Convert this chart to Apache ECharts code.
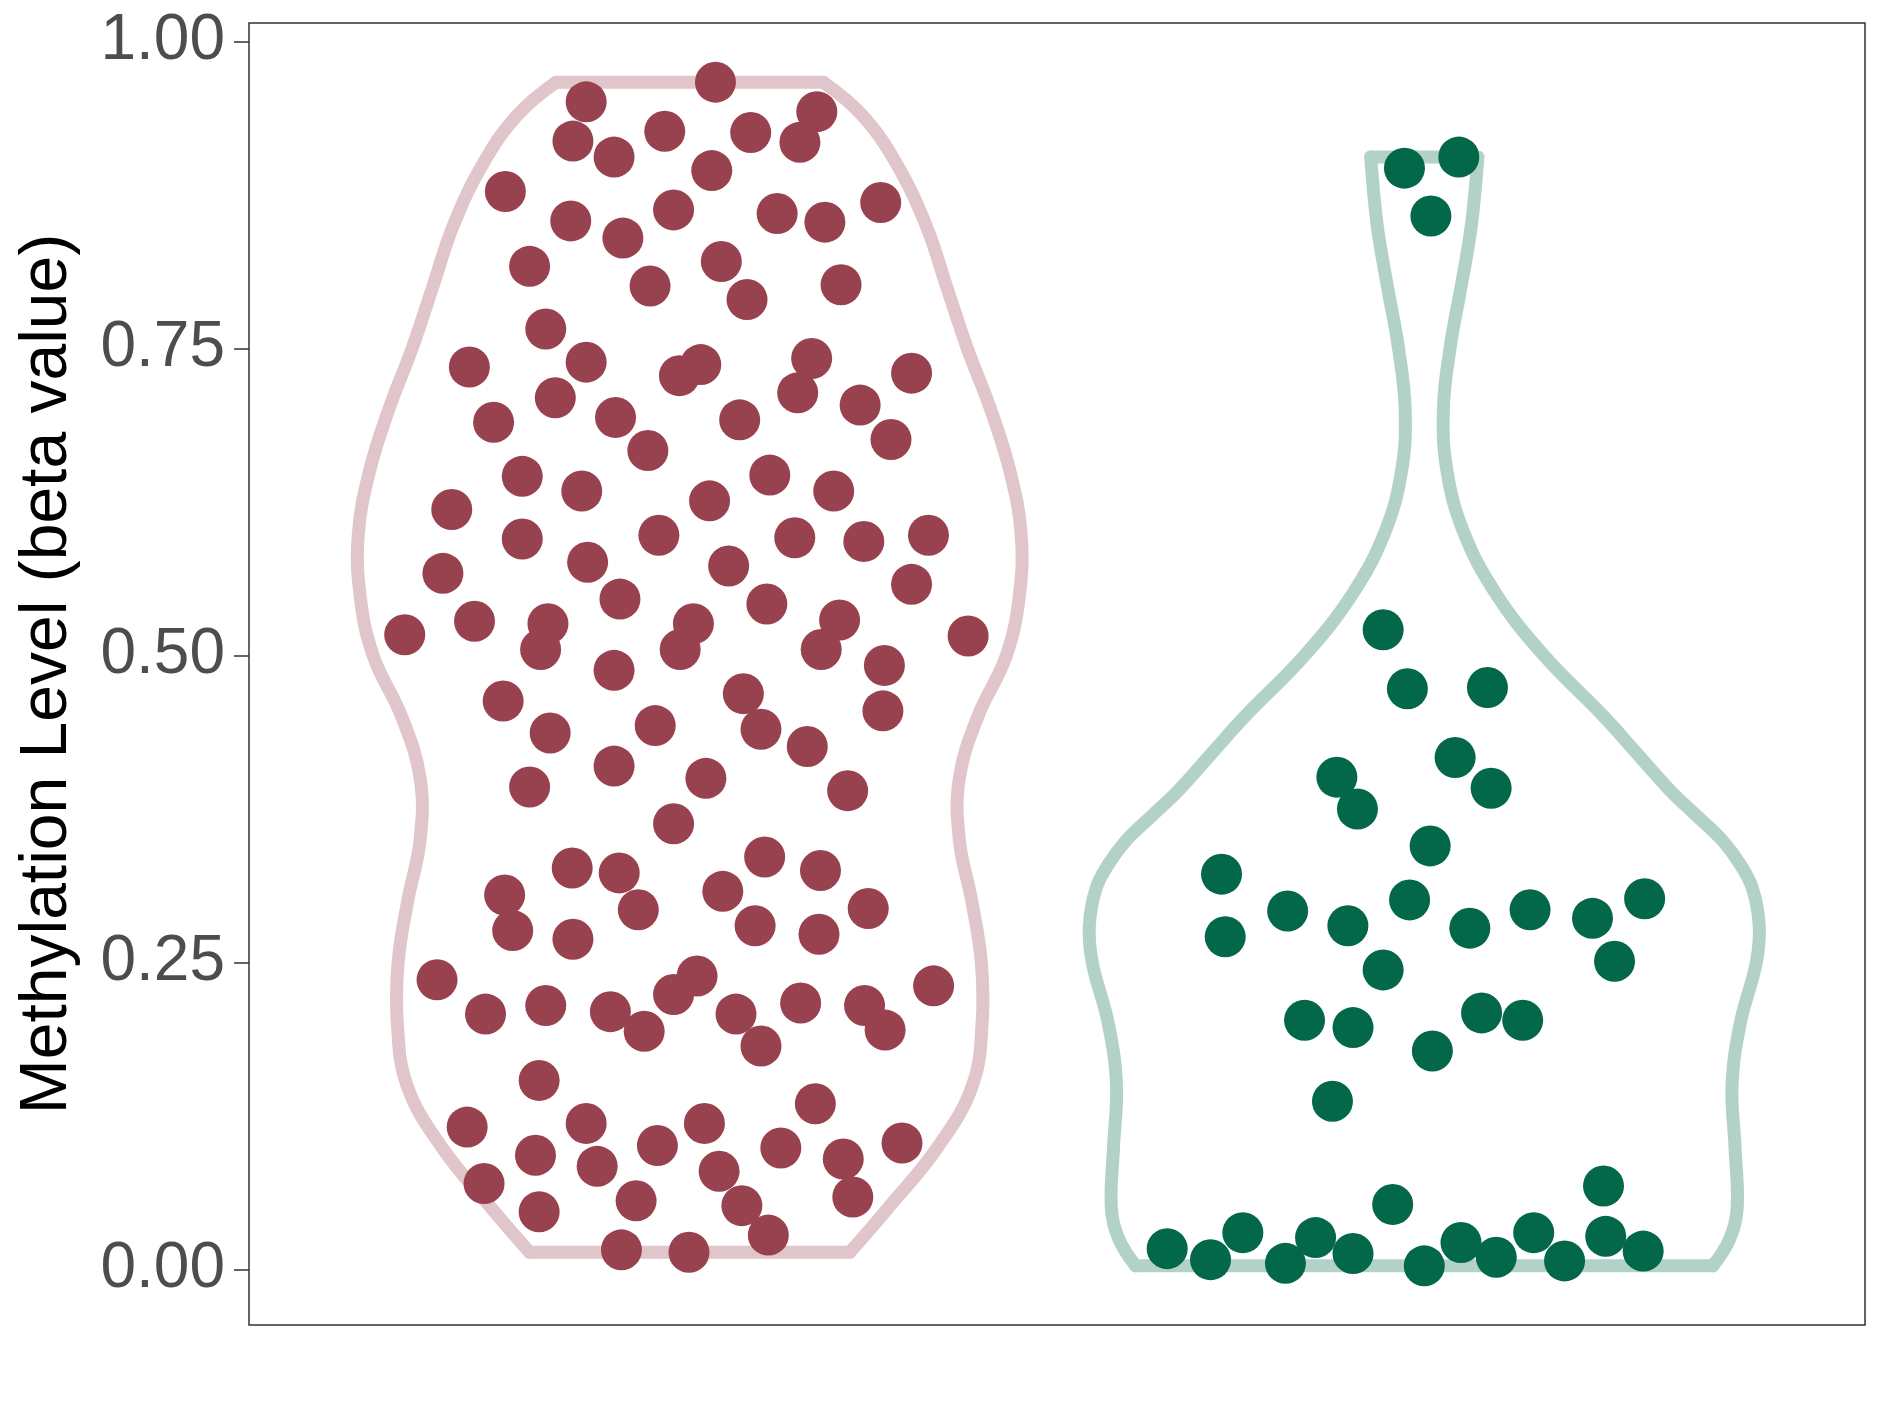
<!DOCTYPE html>
<html><head><meta charset="utf-8">
<script src="https://cdn.jsdelivr.net/npm/echarts@6/dist/echarts.min.js"></script>
<style>html,body{margin:0;padding:0;background:#fff}#c{width:1889px;height:1417px}</style>
</head><body><div id="c"></div>
<script>
// Group positions on the hidden x axis: 1 and 2
const groupPositions = [1, 2];
const yTicks = [0, 0.25, 0.5, 0.75, 1];

// Group 1 (red) points: value and horizontal jitter
const g1Values = [0.967,0.951,0.943,0.919,0.927,0.926,0.918,0.906,0.895,0.878,
  0.854,0.840,0.863,0.860,0.853,0.869,0.817,0.821,0.801,0.790,
  0.802,0.766,0.735,0.739,0.728,0.737,0.742,0.730,0.710,0.714,
  0.704,0.690,0.694,0.692,0.676,0.667,0.646,0.647,0.634,0.634,
  0.619,0.626,0.595,0.598,0.596,0.593,0.598,0.567,0.576,0.573,
  0.558,0.528,0.546,0.542,0.517,0.526,0.505,0.526,0.505,0.529,
  0.505,0.516,0.492,0.488,0.463,0.469,0.455,0.437,0.443,0.440,
  0.426,0.410,0.400,0.393,0.390,0.363,0.336,0.327,0.323,0.325,
  0.305,0.308,0.293,0.294,0.280,0.276,0.269,0.273,0.236,0.239,
  0.231,0.224,0.208,0.215,0.210,0.208,0.217,0.215,0.194,0.195,
  0.182,0.154,0.135,0.116,0.119,0.119,0.101,0.099,0.103,0.093,
  0.084,0.080,0.090,0.070,0.056,0.052,0.059,0.047,0.028,0.016,0.014];
const g1Jitter = [0.035,-0.141,0.173,-0.159,-0.034,0.083,0.150,-0.103,0.030,-0.251,
  -0.162,-0.091,-0.022,0.119,0.184,0.260,-0.218,0.043,-0.054,0.078,
  0.206,-0.196,-0.300,-0.141,-0.014,0.015,0.166,0.302,-0.183,0.147,
  0.232,-0.267,-0.101,0.068,0.274,-0.057,-0.228,0.109,-0.147,0.196,
  -0.324,0.027,-0.228,-0.042,0.143,0.237,0.325,-0.336,-0.139,0.053,
  0.302,-0.293,-0.095,0.105,-0.388,-0.193,-0.203,0.005,-0.013,0.204,
  0.179,0.379,0.265,-0.103,-0.254,0.073,0.263,-0.190,-0.047,0.097,
  0.160,-0.103,0.022,-0.218,0.215,-0.022,0.102,-0.160,-0.096,0.178,
  -0.252,0.045,-0.070,0.243,0.089,-0.241,-0.159,0.176,-0.344,0.010,
  0.332,-0.022,-0.278,-0.196,-0.108,0.063,0.151,0.238,-0.062,0.266,
  0.097,-0.205,0.171,-0.303,-0.141,0.020,-0.044,0.124,0.289,-0.210,
  -0.126,0.040,0.209,-0.280,-0.073,0.071,0.222,-0.205,0.107,-0.093,-0.001];

// Group 2 (green) points
const g2Values = [0.897,0.906,0.858,0.521,0.473,0.474,0.417,0.401,0.392,0.375,
  0.345,0.322,0.301,0.302,0.292,0.293,0.286,0.271,0.280,0.278,
  0.251,0.244,0.209,0.203,0.203,0.197,0.178,0.137,0.053,0.068,
  0.017,0.008,0.030,0.005,0.026,0.013,0.003,0.022,0.010,0.030,0.007,0.027,0.015];
const g2Jitter = [-0.027,0.047,0.009,-0.056,-0.023,0.086,0.042,-0.119,0.091,-0.091,
  0.008,-0.276,-0.020,0.300,-0.186,0.144,0.229,-0.271,-0.104,0.062,
  0.259,-0.056,0.078,-0.163,0.134,-0.097,0.011,-0.125,-0.043,0.244,
  -0.350,-0.291,-0.247,-0.189,-0.148,-0.097,0.000,0.050,0.098,0.149,0.191,0.247,0.298];

// Violin outlines: levels and half-widths (x-axis units)
const g1ViolinY = [0.014,0.05,0.10,0.15,0.20,0.25,0.30,0.35,0.40,0.45,0.50,0.55,0.60,0.65,0.70,0.75,0.80,0.85,0.90,0.94,0.967];
const g1ViolinHalfWidth = [0.218,0.270,0.338,0.385,0.398,0.397,0.384,0.367,0.367,0.392,0.431,0.449,0.451,0.436,0.410,0.378,0.350,0.322,0.282,0.235,0.182];
const g2ViolinY = [0.003,0.025,0.05,0.10,0.15,0.20,0.25,0.28,0.31,0.33,0.35,0.37,0.39,0.42,0.45,0.50,0.55,0.60,0.65,0.70,0.75,0.80,0.85,0.906];
const g2ViolinHalfWidth = [0.393,0.416,0.426,0.423,0.419,0.430,0.452,0.456,0.447,0.430,0.405,0.370,0.335,0.290,0.245,0.163,0.098,0.054,0.031,0.026,0.035,0.050,0.064,0.073];

const pointColors = ['#99424F', '#03674A'];
const violinColors = ['#E0C5CA', '#B3D2C7'];
const violinProfiles = [
  {ys: g1ViolinY, hws: g1ViolinHalfWidth},
  {ys: g2ViolinY, hws: g2ViolinHalfWidth}
];

function renderViolin(params, api) {
  const gi = params.dataIndex;
  const c = groupPositions[gi];
  const ys = violinProfiles[gi].ys, hws = violinProfiles[gi].hws;
  const n = ys.length - 1;
  const style = {stroke: violinColors[gi], lineWidth: 13, fill: null, lineCap: 'round', lineJoin: 'round'};
  const right = ys.map((y, i) => api.coord([c + hws[i], y]));
  const left = ys.map((y, i) => api.coord([c - hws[i], y]));
  return {
    type: 'group',
    children: [
      {type: 'polyline', shape: {points: right, smooth: 0.4}, style: style},
      {type: 'polyline', shape: {points: left, smooth: 0.4}, style: style},
      {type: 'polyline', shape: {points: [left[n], right[n]]}, style: style},
      {type: 'polyline', shape: {points: [left[0], right[0]]}, style: style}
    ]
  };
}

const series = [
  {type: 'custom', z: 1, silent: true, renderItem: renderViolin,
   data: groupPositions.map(p => [p, 0.5]), encode: {x: 0, y: 1}},
  {type: 'scatter', z: 5, symbolSize: 41, itemStyle: {color: pointColors[0], opacity: 1},
   data: g1Values.map((v, i) => [groupPositions[0] + g1Jitter[i], v])},
  {type: 'scatter', z: 5, symbolSize: 41, itemStyle: {color: pointColors[1], opacity: 1},
   data: g2Values.map((v, i) => [groupPositions[1] + g2Jitter[i], v])}
];

const chart = echarts.init(document.getElementById('c'), null, {renderer: 'canvas'});
chart.setOption({
  animation: false,
  backgroundColor: '#ffffff',
  grid: {left: 249, right: 24, top: 23, bottom: 92, show: true, borderColor: '#333333', borderWidth: 1.5, containLabel: false},
  xAxis: {type: 'value', min: 0.4, max: 2.6, show: false},
  yAxis: {
    type: 'value', min: -0.0452, max: 1.0152,
    axisLine: {show: false},
    splitLine: {show: false},
    axisTick: {show: true, length: 15, customValues: yTicks, lineStyle: {color: '#333333', width: 1.5}},
    axisLabel: {customValues: yTicks, formatter: v => v.toFixed(2), fontSize: 64, color: '#4D4D4D', margin: 24, fontFamily: 'Liberation Sans, Arial, sans-serif'},
    name: 'Methylation Level (beta value)', nameLocation: 'middle', nameRotate: 90, nameGap: 168,
    nameTextStyle: {fontSize: 66, color: '#000000', fontFamily: 'Liberation Sans, Arial, sans-serif'}
  },
  series: series
});
</script></body></html>
